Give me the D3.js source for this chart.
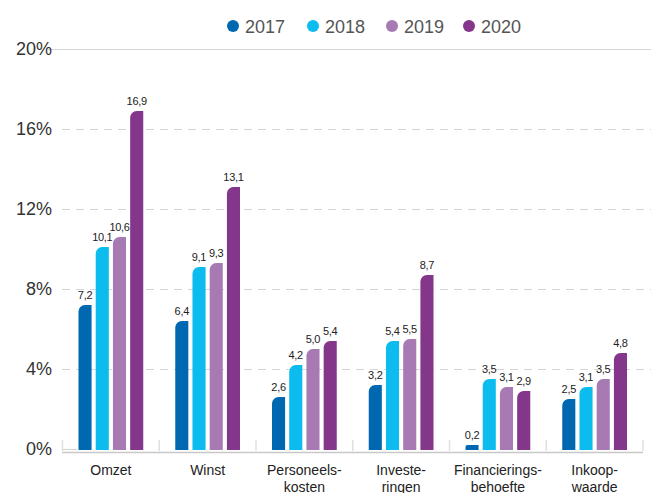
<!DOCTYPE html>
<html>
<head>
<meta charset="utf-8">
<script src="https://cdn.jsdelivr.net/npm/d3@7"></script>
<style>
  body { margin: 0; background: #fff; }
  svg { display: block; font-family: "Liberation Sans", Arial, sans-serif; }
</style>
</head>
<body>
<div id="chart"></div>
<script>
const categories = [["Omzet"], ["Winst"], ["Personeels-", "kosten"], ["Investe-", "ringen"], ["Financierings-", "behoefte"], ["Inkoop-", "waarde"]];
const years = ["2017", "2018", "2019", "2020"];
const v2017 = [7.2, 6.4, 2.6, 3.2, 0.2, 2.5];
const v2018 = [10.1, 9.1, 4.2, 5.4, 3.5, 3.1];
const v2019 = [10.6, 9.3, 5.0, 5.5, 3.1, 3.5];
const v2020 = [16.9, 13.1, 5.4, 8.7, 2.9, 4.8];
const yTicks = [0, 4, 8, 12, 16, 20];
const colors = ["#0068b0", "#0cbcee", "#a77ab4", "#84368a"];

const series = [v2017, v2018, v2019, v2020];
const data = [];
categories.forEach((c, i) => {
  years.forEach((y, j) => data.push({ cat: i, year: y, value: series[j][i] }));
});

const width = 651, height = 493;
const svg = d3.select("#chart").append("svg")
    .attr("width", width)
    .attr("height", height);

const x = d3.scaleBand()
    .domain(d3.range(categories.length))
    .range([62.5, 643])
    .paddingInner(0)
    .paddingOuter(0);

const xi = d3.scaleBand()
    .domain(years)
    .range([16, x.bandwidth() - 16])
    .paddingInner(0.24)
    .paddingOuter(0);

const y = d3.scaleLinear()
    .domain([0, 20])
    .range([449, 49]);

// gridlines (0% is only a short stub at the left)
svg.append("g").selectAll("line")
  .data(yTicks)
  .enter().append("line")
    .attr("x1", d => d === 20 ? 48 : 62)
    .attr("x2", d => d === 0 ? 77 : width)
    .attr("y1", d => y(d) + 0.5)
    .attr("y2", d => y(d) + 0.5)
    .style("stroke", "#d6d6d6")
    .style("stroke-width", 1.2)
    .style("stroke-dasharray", d => (d === 20 || d === 0) ? null : "8,6");

// y labels
svg.append("g").selectAll("text")
  .data(yTicks)
  .enter().append("text")
    .attr("x", 52)
    .attr("y", d => y(d) + 6)
    .attr("text-anchor", "end")
    .style("font-size", "18px")
    .style("fill", "#333")
    .text(d => d + "%");

// bars with rounded top-left corner
function barPath(x0, w, yTop, yBase) {
  const h = yBase - yTop;
  const r = Math.min(6.5, h - 3, w / 2);
  if (r <= 1) {
    return `M${x0},${yBase}V${yTop}H${x0 + w}V${yBase}Z`;
  }
  return `M${x0},${yBase}V${yTop + r}A${r},${r} 0 0 1 ${x0 + r},${yTop}H${x0 + w}V${yBase}Z`;
}

svg.append("g").selectAll("path")
  .data(data)
  .enter().append("path")
    .attr("d", d => barPath(x(d.cat) + xi(d.year), xi.bandwidth(), y(d.value), 450))
    .style("fill", d => colors[years.indexOf(d.year)]);

// value labels
svg.append("g").selectAll("text")
  .data(data)
  .enter().append("text")
    .attr("x", d => x(d.cat) + xi(d.year) + xi.bandwidth() / 2)
    .attr("y", d => y(d.value) - 6)
    .attr("text-anchor", "middle")
    .style("font-size", "11px")
    .style("fill", "#222")
    .style("letter-spacing", "-0.3px")
    .text(d => d3.format(".1f")(d.value).replace(".", ","));

// x axis line and separators
svg.append("line")
    .attr("x1", 62).attr("x2", 643)
    .attr("y1", 452.5).attr("y2", 452.5)
    .style("stroke", "#c8c8c8")
    .style("stroke-width", 1.6);

const seps = d3.range(categories.length + 1).map(i => i < categories.length ? x(i) : x.range()[1]);
svg.append("g").selectAll("line")
  .data(seps)
  .enter().append("line")
    .attr("x1", d => d).attr("x2", d => d)
    .attr("y1", 440).attr("y2", 451)
    .style("stroke", "#e0e0e0")
    .style("stroke-width", 1.5);

// category labels
const catG = svg.append("g").selectAll("text")
  .data(categories)
  .enter().append("text")
    .attr("x", (d, i) => x(i) + x.bandwidth() / 2)
    .attr("y", 475)
    .attr("text-anchor", "middle")
    .style("font-size", "14px")
    .style("fill", "#222");
catG.selectAll("tspan")
  .data(d => d)
  .enter().append("tspan")
    .attr("x", function () { return d3.select(this.parentNode).attr("x"); })
    .attr("dy", (d, i) => i === 0 ? 0 : 17)
    .text(d => d);

// legend
const legendX = [233, 313, 392, 469];
const legend = svg.append("g").selectAll("g")
  .data(years)
  .enter().append("g")
    .attr("transform", (d, i) => `translate(${legendX[i]},26)`);
legend.append("circle")
    .attr("r", 6)
    .style("fill", (d, i) => colors[i]);
legend.append("text")
    .attr("x", 12)
    .attr("y", 6.5)
    .style("font-size", "18px")
    .style("fill", "#555")
    .text(d => d);
</script>
</body>
</html>
